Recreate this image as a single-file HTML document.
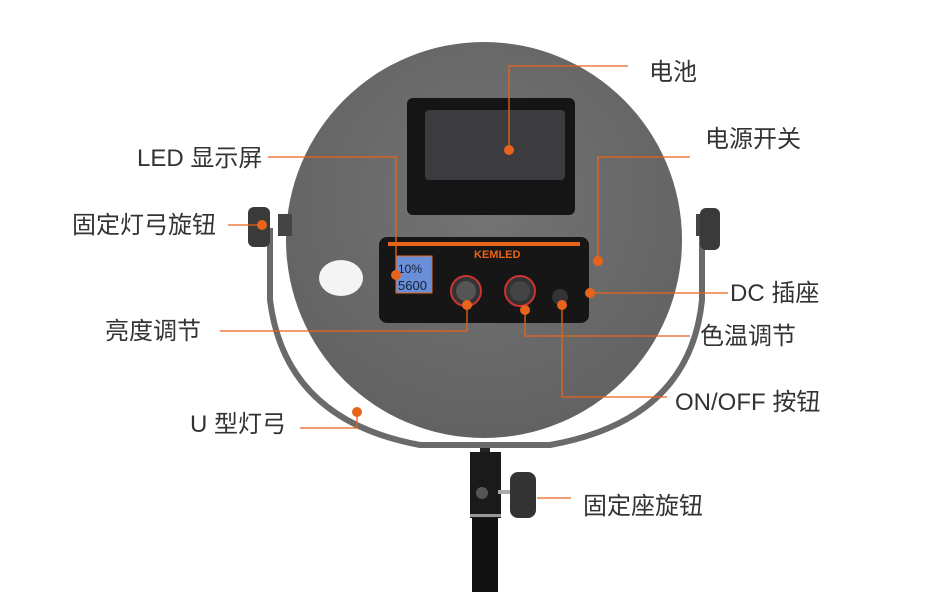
<!DOCTYPE html>
<html><head><meta charset="utf-8"><style>
html,body{margin:0;padding:0;background:#fff;}
svg{display:block;}
text{font-family:"Liberation Sans","Noto Sans CJK SC",sans-serif;font-size:24px;fill:#333;}
</style></head><body>
<svg width="945" height="604" viewBox="0 0 945 604" xmlns="http://www.w3.org/2000/svg">
<defs>
<radialGradient id="g" cx="50%" cy="40%" r="60%"><stop offset="0" stop-color="#747474"/><stop offset="1" stop-color="#626262"/></radialGradient>
</defs>
<rect x="472" y="515" width="26" height="77" fill="#111"/>
<rect x="470" y="452" width="31" height="66" fill="#1a1a1a"/>
<rect x="470" y="514" width="31" height="3" fill="#999"/>
<circle cx="482" cy="493" r="6" fill="#555"/>
<rect x="498" y="490" width="14" height="4" fill="#aaa"/>
<rect x="510" y="472" width="26" height="46" rx="8" fill="#333"/>
<rect x="480" y="442" width="10" height="10" fill="#222"/>
<circle cx="484" cy="240" r="198" fill="url(#g)"/>
<path d="M270 228 L270 300 Q285 420 420 445 L550 445 Q690 420 702 300 L702 228" fill="none" stroke="#6a6a6a" stroke-width="6"/>
<rect x="248" y="207" width="22" height="40" rx="6" fill="#3a3a3a"/>
<rect x="278" y="214" width="14" height="22" fill="#444"/>
<rect x="696" y="214" width="14" height="22" fill="#444"/>
<rect x="700" y="208" width="20" height="42" rx="6" fill="#3a3a3a"/>
<ellipse cx="341" cy="278" rx="22" ry="18" fill="#f4f4f4"/>
<rect x="407" y="98" width="168" height="117" rx="6" fill="#151515"/>
<rect x="425" y="110" width="140" height="70" rx="4" fill="#3c3c40"/>
<rect x="379" y="237" width="210" height="86" rx="8" fill="#161616"/>
<rect x="388" y="242" width="192" height="4" fill="#e8641a"/>
<rect x="396" y="256" width="36" height="37" fill="#6b8ed8" stroke="#e8641a" stroke-width="1"/>
<text x="398" y="273" style="font-size:12px;fill:#123">10%</text>
<text x="398" y="290" style="font-size:13px;fill:#123">5600</text>
<text x="474" y="258" style="font-size:11px;fill:#e8641a;font-weight:bold">KEMLED</text>
<circle cx="466" cy="291" r="15" fill="#333" stroke="#c33" stroke-width="2"/>
<circle cx="466" cy="291" r="10" fill="#555"/>
<circle cx="520" cy="291" r="15" fill="#333" stroke="#c33" stroke-width="2"/>
<circle cx="520" cy="291" r="10" fill="#444"/>
<circle cx="560" cy="297" r="8" fill="#333"/>
<g fill="none" stroke="#e8641a" stroke-width="1.3">
<path d="M509 150 V66 H628"/>
<path d="M598 261 V157 H690"/>
<path d="M268 157 H396 V275"/>
<path d="M228 225 H262"/>
<path d="M590 293 H728"/>
<path d="M220 331 H467 V305"/>
<path d="M525 310 V336 H690"/>
<path d="M562 305 V397 H667"/>
<path d="M300 428 H357 V412"/>
<path d="M537 498 H571"/>
</g>
<g fill="#e8641a">
<circle cx="509" cy="150" r="5"/>
<circle cx="598" cy="261" r="5"/>
<circle cx="396" cy="275" r="5"/>
<circle cx="262" cy="225" r="5"/>
<circle cx="590" cy="293" r="5"/>
<circle cx="467" cy="305" r="5"/>
<circle cx="525" cy="310" r="5"/>
<circle cx="562" cy="305" r="5"/>
<circle cx="357" cy="412" r="5"/>
</g>
<text x="649" y="80">电池</text>
<text x="705" y="147">电源开关</text>
<text x="137" y="166">LED 显示屏</text>
<text x="72" y="233">固定灯弓旋钮</text>
<text x="730" y="301">DC 插座</text>
<text x="105" y="339">亮度调节</text>
<text x="700" y="344">色温调节</text>
<text x="675" y="410">ON/OFF 按钮</text>
<text x="190" y="432">U 型灯弓</text>
<text x="583" y="514">固定座旋钮</text>
</svg>
</body></html>
